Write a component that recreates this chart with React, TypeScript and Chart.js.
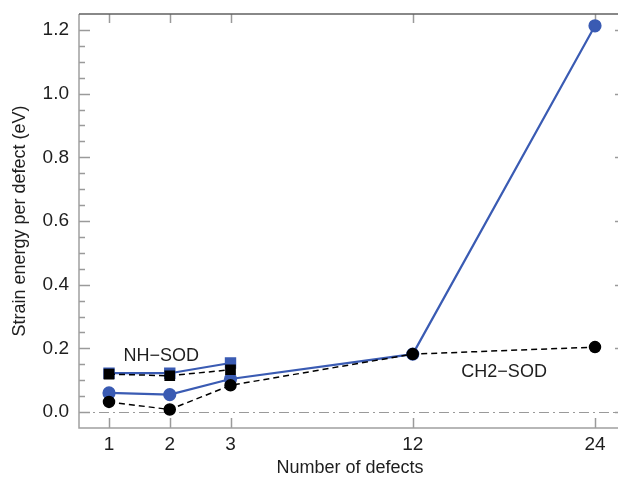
import React, { useEffect, useRef } from "react";
import { Chart, registerables } from "chart.js";

Chart.register(...registerables);

// ---- data ----
const defectLabels = ["1", "2", "3", "12", "24"];
const defectSlots = [0, 1, 2, 5, 8]; // axis slot of each defect count (non-uniform axis)
const ch2SodBlue = [0.060, 0.055, 0.104, 0.182, 1.213];
const ch2SodBlack = [0.032, 0.008, 0.084, 0.182, 0.204];
const nhSodBlue = [0.122, 0.122, 0.154];
const nhSodBlack = [0.119, 0.114, 0.133];
const yTickValues = [0, 0.2, 0.4, 0.6, 0.8, 1.0, 1.2];
const yMinorStep = 0.05;
const yRange = [-0.05, 1.25];
const xRange = [-0.494, 8.428];
const annotations = [
  { text: "NH\u2212SOD", x: 0.24, y: 0.159 },
  { text: "CH2\u2212SOD", x: 5.8, y: 0.109 },
];

const FONT = "'Liberation Sans', Arial, Helvetica, sans-serif";
const BLUE = "#3a5bb3";
const BLACK = "#000000";
const TEXT = "#1e1e1e";

const pts = (vals: number[]) => vals.map((v, i) => ({ x: defectSlots[i], y: v }));

const framePlugin = {
  id: "frame",
  beforeDatasetsDraw(chart: any) {
    const { ctx, chartArea: a, scales } = chart;
    const xs = scales.x;
    const ys = scales.y;
    ctx.save();
    // zero dash-dot line
    const y0 = Math.round(ys.getPixelForValue(0)) + 0.5;
    ctx.strokeStyle = "#9a9a9a";
    ctx.lineWidth = 1;
    ctx.setLineDash([10, 4, 2, 4]);
    ctx.beginPath();
    ctx.moveTo(a.left, y0);
    ctx.lineTo(a.right, y0);
    ctx.stroke();
    ctx.setLineDash([]);

    // ticks
    ctx.strokeStyle = "#9a9a9a";
    ctx.lineWidth = 1.5;
    ctx.beginPath();
    for (let v = yRange[0]; v <= yRange[1] + 1e-9; v += yMinorStep) {
      const vv = Math.round(v * 100) / 100;
      if (vv < yRange[0] + 1e-9 || vv > yRange[1] - 1e-9) continue;
      const isMajor = yTickValues.some((t) => Math.abs(t - vv) < 1e-6);
      const py = Math.round(ys.getPixelForValue(vv)) + 0.5;
      ctx.moveTo(a.left, py);
      ctx.lineTo(a.left + (isMajor ? 11 : 6), py);
      if (isMajor) {
        ctx.moveTo(a.right, py);
        ctx.lineTo(a.right - 6, py);
      }
    }
    defectSlots.forEach((s) => {
      const px = Math.round(xs.getPixelForValue(s)) + 0.5;
      ctx.moveTo(px, a.bottom);
      ctx.lineTo(px, a.bottom - 10);
      ctx.moveTo(px, a.top);
      ctx.lineTo(px, a.top + 9);
    });
    ctx.stroke();

    // frame
    ctx.lineWidth = 1.5;
    ctx.strokeStyle = "#a0a0a0";
    ctx.beginPath();
    ctx.moveTo(a.left, a.top);
    ctx.lineTo(a.left, a.bottom);
    ctx.lineTo(a.right, a.bottom);
    ctx.lineTo(a.right, a.top);
    ctx.stroke();
    ctx.strokeStyle = "#606060";
    ctx.beginPath();
    ctx.moveTo(a.left, a.top);
    ctx.lineTo(a.right, a.top);
    ctx.stroke();
    ctx.restore();
  },
  afterDatasetsDraw(chart: any) {
    const { ctx, scales } = chart;
    ctx.save();
    ctx.fillStyle = TEXT;
    ctx.font = `18px ${FONT}`;
    ctx.textAlign = "left";
    ctx.textBaseline = "alphabetic";
    annotations.forEach((an) => {
      ctx.fillText(an.text, scales.x.getPixelForValue(an.x), scales.y.getPixelForValue(an.y));
    });
    ctx.restore();
  },
};

export default function App() {
  const ref = useRef<HTMLCanvasElement | null>(null);
  useEffect(() => {
    if (!ref.current) return;
    const chart = new Chart(ref.current, {
      type: "line",
      data: {
        datasets: [
          {
            label: "CH2-SOD (black)",
            data: pts(ch2SodBlack),
            borderColor: BLACK,
            backgroundColor: BLACK,
            borderWidth: 1.5,
            borderDash: [6, 4],
            pointRadius: 5.5,
            pointStyle: "circle",
            order: 0,
          },
          {
            label: "NH-SOD (black)",
            data: pts(nhSodBlack),
            borderColor: BLACK,
            backgroundColor: BLACK,
            borderWidth: 1.5,
            borderDash: [6, 4],
            pointRadius: 6.5,
            pointStyle: "rect",
            order: 1,
          },
          {
            label: "CH2-SOD (blue)",
            data: pts(ch2SodBlue),
            borderColor: BLUE,
            backgroundColor: BLUE,
            borderWidth: 2.2,
            pointRadius: 5.5,
            pointStyle: "circle",
            order: 2,
          },
          {
            label: "NH-SOD (blue)",
            data: pts(nhSodBlue),
            borderColor: BLUE,
            backgroundColor: BLUE,
            borderWidth: 2.2,
            pointRadius: 6.5,
            pointStyle: "rect",
            order: 3,
          },
        ],
      },
      options: {
        animation: false,
        responsive: false,
        devicePixelRatio: 1,
        layout: { padding: { top: 14, right: 19, left: 0, bottom: 0 } },
        plugins: { legend: { display: false }, tooltip: { enabled: false } },
        elements: { line: { tension: 0 } },
        scales: {
          x: {
            type: "linear",
            min: xRange[0],
            max: xRange[1],
            grid: { display: false, drawTicks: false },
            border: { display: false },
            afterBuildTicks: (scale: any) => {
              scale.ticks = defectSlots.map((s) => ({ value: s }));
            },
            afterFit: (scale: any) => {
              scale.height = 49;
              scale.paddingLeft = 0;
              scale.paddingRight = 0;
            },
            ticks: {
              padding: 5,
              color: TEXT,
              font: { family: FONT, size: 19, lineHeight: 1.2 },
              maxRotation: 0,
              autoSkip: false,
              callback: (v: any) => {
                const i = defectSlots.indexOf(Number(v));
                return i >= 0 ? defectLabels[i] : "";
              },
            },
            title: {
              display: true,
              text: "Number of defects",
              color: TEXT,
              font: { family: FONT, size: 18, lineHeight: 1 },
              padding: { top: 0, bottom: 0 },
            },
          },
          y: {
            type: "linear",
            min: yRange[0],
            max: yRange[1],
            grid: { display: false, drawTicks: false },
            border: { display: false },
            afterBuildTicks: (scale: any) => {
              scale.ticks = yTickValues.map((v) => ({ value: v }));
            },
            afterFit: (scale: any) => {
              scale.width = 79;
              scale.paddingTop = 0;
              scale.paddingBottom = 0;
            },
            ticks: {
              padding: 10,
              color: TEXT,
              font: { family: FONT, size: 19 },
              callback: (v: any) => Number(v).toFixed(1),
            },
            title: {
              display: true,
              text: "Strain energy per defect (eV)",
              color: TEXT,
              font: { family: FONT, size: 18, lineHeight: 1 },
              padding: { top: 11, bottom: 0 },
            },
          },
        },
      },
      plugins: [framePlugin],
    });
    return () => chart.destroy();
  }, []);

  return (
    <div
      style={{
        position: "fixed",
        left: 0,
        top: 0,
        width: 618,
        height: 477,
        overflow: "hidden",
        background: "#fff",
      }}
    >
      <canvas ref={ref} width={640} height={477} style={{ display: "block" }} />
    </div>
  );
}
